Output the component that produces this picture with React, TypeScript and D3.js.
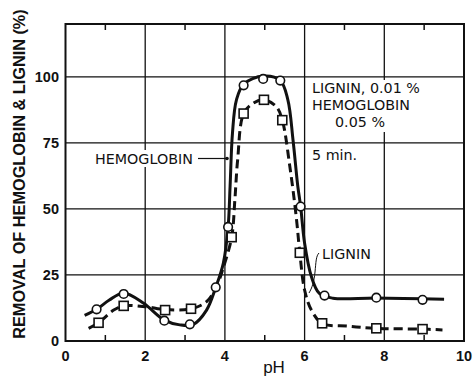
import React from "react";
import * as d3 from "d3";

// Measured points (pH, % removal)
const hemoPH = [0.78, 1.46, 2.48, 3.12, 3.77, 4.08, 4.47, 4.96, 5.39, 5.9, 6.5, 7.8, 8.96];
const hemoVal = [12.0, 17.8, 7.7, 6.3, 20.3, 43.2, 96.8, 99.2, 98.6, 50.9, 17.2, 16.4, 15.6];
const ligPH = [0.83, 1.46, 2.5, 3.15, 4.17, 4.47, 4.98, 5.44, 5.88, 6.44, 7.8, 8.96];
const ligVal = [6.9, 13.3, 11.7, 12.2, 39.3, 86.1, 91.3, 83.6, 33.4, 6.7, 4.8, 4.5];

// Hand-fitted curves
const hemoCurvePH = [0.48, 0.78, 1.1, 1.46, 1.96, 2.48, 2.87, 3.2, 3.54, 3.77, 3.96, 4.08, 4.13, 4.19, 4.29, 4.47, 4.96, 5.39, 5.58, 5.71, 5.83, 5.9, 6.0, 6.17, 6.37, 6.71, 7.8, 9.5];
const hemoCurveVal = [9.7, 12.0, 15.5, 18.2, 14.3, 7.9, 6.1, 6.2, 11.7, 20.3, 29.4, 43.0, 58.5, 78.7, 91.3, 97.2, 100.3, 98.6, 91.3, 76.0, 58.5, 51.0, 37.0, 24.4, 18.0, 16.2, 16.3, 15.8];
const ligCurvePH = [0.58, 0.83, 1.21, 1.46, 2.0, 2.5, 3.15, 3.54, 3.79, 3.96, 4.17, 4.25, 4.32, 4.47, 4.71, 4.98, 5.29, 5.44, 5.63, 5.79, 5.88, 6.0, 6.17, 6.44, 7.1, 7.8, 8.96, 9.46];
const ligCurveVal = [4.8, 6.9, 11.7, 13.3, 13.0, 11.9, 12.2, 14.9, 20.6, 27.8, 39.3, 53.4, 68.6, 86.1, 90.0, 91.3, 88.7, 83.6, 66.0, 47.0, 33.4, 19.3, 11.7, 6.7, 5.6, 4.8, 4.5, 4.2];

const xMajor = [0, 2, 4, 6, 8, 10];
const xMinor = [1, 3, 5, 7, 9];
const yTicks = [0, 25, 50, 75, 100];

const W = 473;
const H = 379;

export default function App() {
  const x = d3.scaleLinear().domain([0, 10]).range([65.5, 464]);
  const y = d3.scaleLinear().domain([0, 120]).range([341, 24]);

  const line = d3
    .line<[number, number]>()
    .x((d) => x(d[0]))
    .y((d) => y(d[1]))
    .curve(d3.curveCatmullRom.alpha(0.5));

  const hemoPath = line(hemoCurvePH.map((p, i) => [p, hemoCurveVal[i]]) as [number, number][]) || "";
  const ligPath = line(ligCurvePH.map((p, i) => [p, ligCurveVal[i]]) as [number, number][]) || "";

  const font = "'Liberation Sans', Arial, Helvetica, sans-serif";
  const aFont = "'DejaVu Sans', Verdana, sans-serif";
  const [x0, x1] = x.range();
  const [yb, yt] = y.range();

  return (
    <svg
      width={W}
      height={H}
      style={{ position: "absolute", left: 0, top: 0, background: "#fff" }}
      fontFamily={font}
    >
      <rect x={0} y={0} width={W} height={H} fill="#fff" />
      {/* grid */}
      {yTicks.slice(1).map((t) => (
        <line key={"gy" + t} x1={x0} x2={x1} y1={y(t)} y2={y(t)} stroke="#111" strokeWidth={1.3} />
      ))}
      {xMajor.slice(1, -1).map((t) => (
        <line key={"gx" + t} x1={x(t)} x2={x(t)} y1={yt} y2={yb} stroke="#111" strokeWidth={1.3} />
      ))}
      {xMinor.map((t) => (
        <g key={"mt" + t}>
          <line x1={x(t)} x2={x(t)} y1={yb} y2={yb - 6} stroke="#111" strokeWidth={1.5} />
          <line x1={x(t)} x2={x(t)} y1={yt} y2={yt + 6} stroke="#111" strokeWidth={1.5} />
        </g>
      ))}
      {/* frame */}
      <rect x={x0} y={yt} width={x1 - x0} height={yb - yt} fill="none" stroke="#111" strokeWidth={2} />

      {/* annotation white boxes */}
      <rect x={308} y={80} width={118} height={52} fill="#fff" />
      <rect x={92} y={150} width={106} height={17} fill="#fff" />

      {/* curves */}
      <path d={ligPath} fill="none" stroke="#111" strokeWidth={3} strokeDasharray="9 5" />
      <path d={hemoPath} fill="none" stroke="#111" strokeWidth={3} />

      {/* markers */}
      {ligPH.map((p, i) => (
        <rect
          key={"s" + i}
          x={x(p) - 4.5}
          y={y(ligVal[i]) - 4.5}
          width={9}
          height={9}
          fill="#fff"
          stroke="#111"
          strokeWidth={1.6}
        />
      ))}
      {hemoPH.map((p, i) => (
        <circle key={"c" + i} cx={x(p)} cy={y(hemoVal[i])} r={4.3} fill="#fff" stroke="#111" strokeWidth={1.6} />
      ))}

      {/* y tick labels */}
      {yTicks.map((t) => (
        <text key={"yl" + t} x={59} y={y(t)} dy="0.35em" textAnchor="end" fontSize={14.5} fontWeight="bold" fill="#111">
          {t}
        </text>
      ))}
      {/* x tick labels */}
      {xMajor.map((t) => (
        <text key={"xl" + t} x={x(t)} y={361} textAnchor="middle" fontSize={14.5} fontWeight="bold" fill="#111">
          {t}
        </text>
      ))}
      <text x={274} y={373} textAnchor="middle" fontSize={17} fill="#111">
        pH
      </text>
      <text
        transform={`translate(25,174) rotate(-90)`}
        textAnchor="middle"
        fontSize={16.3}
        fontWeight="bold"
        fill="#111"
      >
        REMOVAL OF HEMOGLOBIN &amp; LIGNIN (%)
      </text>

      {/* annotations */}
      <g fontFamily={aFont} fontSize={14.3} fill="#111">
        <text x={312} y={93}>LIGNIN, 0.01 %</text>
        <text x={312} y={110}>HEMOGLOBIN</text>
        <text x={335} y={127}>0.05 %</text>
        <text x={312} y={160}>5 min.</text>
        <text x={95} y={164}>HEMOGLOBIN</text>
        <text x={322} y={259}>LIGNIN</text>
      </g>
      <line x1={198} x2={228} y1={158.5} y2={158.5} stroke="#111" strokeWidth={1.2} />
      <circle cx={227} cy={158.5} r={1.8} fill="#111" />
      <path d="M319,253 C316,256 316,262 315,272 C314,282 312,288 309,293" fill="none" stroke="#111" strokeWidth={1} />
    </svg>
  );
}
